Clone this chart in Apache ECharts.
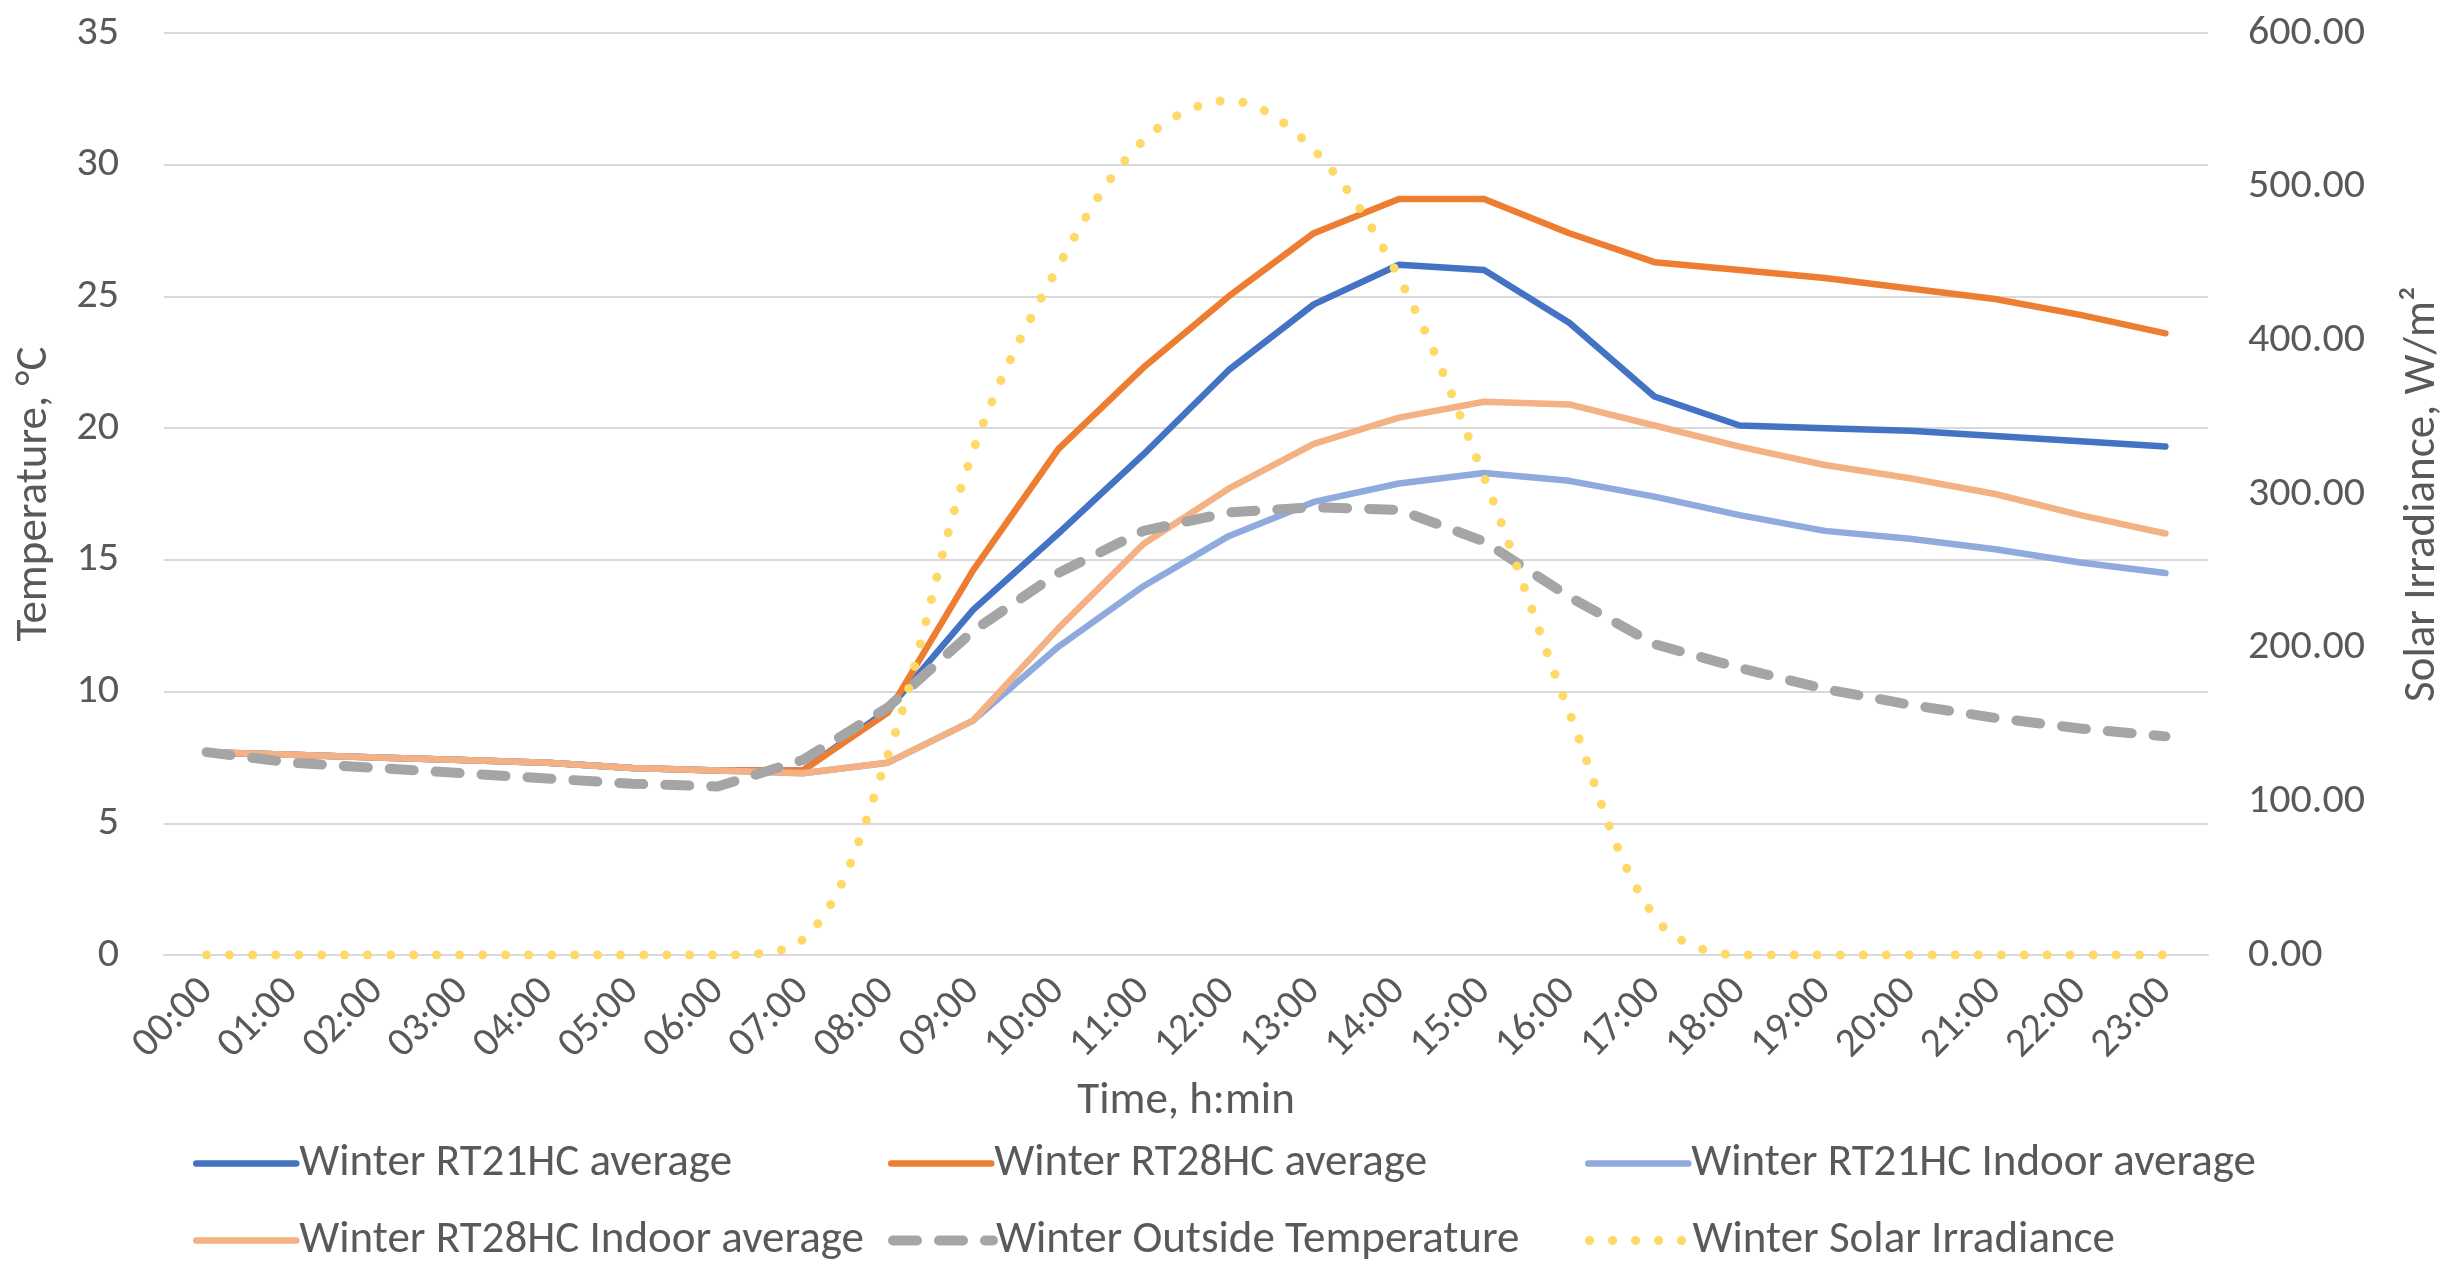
<!DOCTYPE html>
<html>
<head>
<meta charset="utf-8">
<script src="https://cdn.jsdelivr.net/npm/echarts@6/dist/echarts.min.js"></script>
<style>
html,body{margin:0;padding:0;background:#fff;}
#c{width:2456px;height:1276px;}
</style>
</head>
<body>
<div id="c"></div>
<script>
const categories = ['00:00','01:00','02:00','03:00','04:00','05:00','06:00','07:00','08:00','09:00','10:00','11:00','12:00','13:00','14:00','15:00','16:00','17:00','18:00','19:00','20:00','21:00','22:00','23:00'];
const rt21Avg    = [7.7,7.6,7.5,7.4,7.3,7.1,7.0,7.0,9.3,13.1,16.0,19.0,22.2,24.7,26.2,26.0,24.0,21.2,20.1,20.0,19.9,19.7,19.5,19.3];
const rt28Avg    = [7.7,7.6,7.5,7.4,7.3,7.1,7.0,7.0,9.2,14.6,19.2,22.3,25.0,27.4,28.7,28.7,27.4,26.3,26.0,25.7,25.3,24.9,24.3,23.6];
const rt21Indoor = [7.7,7.6,7.5,7.4,7.3,7.1,7.0,6.9,7.3,8.9,11.7,14.0,15.9,17.2,17.9,18.3,18.0,17.4,16.7,16.1,15.8,15.4,14.9,14.5];
const rt28Indoor = [7.7,7.6,7.5,7.4,7.3,7.1,7.0,6.9,7.3,8.9,12.4,15.6,17.7,19.4,20.4,21.0,20.9,20.1,19.3,18.6,18.1,17.5,16.7,16.0];
const outsideT   = [7.7,7.3,7.1,6.9,6.7,6.5,6.4,7.4,9.4,12.3,14.5,16.1,16.8,17.0,16.9,15.7,13.6,11.8,10.9,10.1,9.5,9.0,8.6,8.3];
const solar      = [0,0,0,0,0,0,0,10,130,328,448,530,556,524,441,311,158,25,0,0,0,0,0,0];
const leftTicks  = {min:0, max:35, interval:5};
const rightTicks = {min:0, max:600, interval:100};

const FONT = 'Carlito, Lato, sans-serif';
const TXT = '#595959';
const chart = echarts.init(document.getElementById('c'));

const names = ['Winter RT21HC average','Winter RT28HC average','Winter RT21HC Indoor average','Winter RT28HC Indoor average','Winter Outside Temperature','Winter Solar Irradiance'];
const colors = ['#4472C4','#ED7D31','#8FAADC','#F4B183','#A5A5A5','#FFD966'];
const legendPos = [[193,1141],[888,1141],[1585,1141],[193,1218],[888,1218],[1585,1218]];
const SOLID_W = 6.5;
const lineStyles = [
  {width:SOLID_W, type:'solid', cap:'round'},
  {width:SOLID_W, type:'solid', cap:'round'},
  {width:SOLID_W, type:'solid', cap:'round'},
  {width:SOLID_W, type:'solid', cap:'round'},
  {width:10, type:[24,22], cap:'round'},
  {width:9, type:[0.1,22.9], cap:'round'}
];

chart.setOption({
  animation:false,
  backgroundColor:'#fff',
  textStyle:{fontFamily:FONT},
  grid:{left:164, right:248, top:33, bottom:321, containLabel:false},
  legend: names.map((n,i)=>({
    data:[n], left:legendPos[i][0], top:legendPos[i][1],
    itemWidth:100, itemHeight:50, itemGap:0, padding:0,
    itemStyle:{opacity:0},
    lineStyle:Object.assign({color:colors[i]}, lineStyles[i]),
    textStyle:{color:TXT, fontSize:45, fontFamily:FONT, padding:[0,0,0,-2]},
    selectedMode:false
  })),
  xAxis:{
    type:'category', data:categories, boundaryGap:true,
    name:'Time, h:min', nameLocation:'middle', nameGap:124,
    nameTextStyle:{color:TXT, fontSize:45, fontFamily:FONT},
    axisLine:{show:true, lineStyle:{color:'#D9D9D9', width:2}},
    axisTick:{show:false},
    axisLabel:{rotate:45, color:TXT, fontSize:41, fontFamily:FONT, margin:30, interval:0}
  },
  yAxis:[{
    type:'value', min:leftTicks.min, max:leftTicks.max, interval:leftTicks.interval,
    name:'Temperature, °C', nameLocation:'middle', nameGap:107, nameRotate:90,
    nameTextStyle:{color:TXT, fontSize:45, fontFamily:FONT},
    axisLine:{show:false}, axisTick:{show:false},
    axisLabel:{color:TXT, fontSize:42, fontFamily:FONT, margin:45},
    splitLine:{show:true, lineStyle:{color:'#D9D9D9', width:2}}
  },{
    type:'value', min:rightTicks.min, max:rightTicks.max, interval:rightTicks.interval,
    name:'Solar Irradiance, W/m²', nameLocation:'middle', nameGap:192, nameRotate:90,
    nameTextStyle:{color:TXT, fontSize:45, fontFamily:FONT},
    axisLine:{show:false}, axisTick:{show:false},
    axisLabel:{color:TXT, fontSize:42, fontFamily:FONT, margin:40, formatter:v=>v.toFixed(2)},
    splitLine:{show:false}
  }],
  series: names.map((n,i)=>({
    name:n, type:'line',
    data:[rt21Avg, rt28Avg, rt21Indoor, rt28Indoor, outsideT, solar][i],
    yAxisIndex: i===5 ? 1 : 0,
    symbol:'none', z:2+i,
    smooth: i===5 ? 0.35 : false,
    lineStyle:Object.assign({color:colors[i], join:'round'}, lineStyles[i]),
    itemStyle:{color:colors[i]}
  }))
});
</script>
</body>
</html>
